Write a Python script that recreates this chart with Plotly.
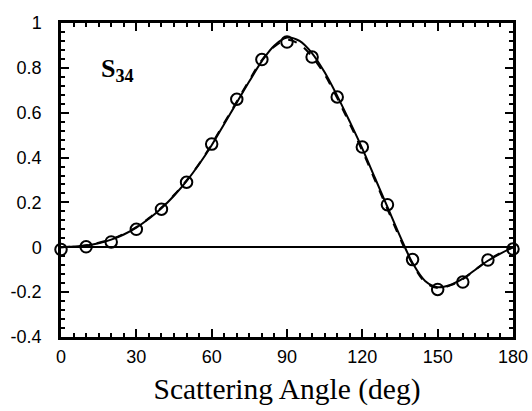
import plotly.graph_objects as go

# Measured data points (circles)
angles_pts = [0, 10, 20, 30, 40, 50, 60, 70, 80, 90, 100, 110, 120, 130, 140, 150, 160, 170, 180]
s34_pts = [-0.01, 0.002, 0.024, 0.08, 0.17, 0.29, 0.46, 0.66, 0.837, 0.915, 0.848, 0.67, 0.447, 0.19, -0.055, -0.188, -0.155, -0.057, -0.008]

# Model curves
angles_curve = [0, 5, 10, 15, 20, 25, 30, 35, 40, 45, 50, 55, 60, 65, 70, 75, 80, 85, 90,
                95, 100, 105, 110, 115, 120, 125, 130, 135, 140, 145, 150, 155, 160, 165, 170, 175, 180]
s34_solid = [0.0, 0.003, 0.008, 0.018, 0.034, 0.057, 0.088, 0.127, 0.174, 0.23, 0.295, 0.37, 0.455,
             0.55, 0.645, 0.74, 0.83, 0.9, 0.935, 0.92, 0.865, 0.78, 0.675, 0.56, 0.44, 0.31, 0.18,
             0.05, -0.07, -0.15, -0.178, -0.168, -0.14, -0.1, -0.06, -0.028, 0.0]
s34_dashed = [0.0, 0.003, 0.009, 0.02, 0.036, 0.06, 0.09, 0.13, 0.177, 0.233, 0.298, 0.372, 0.46,
              0.555, 0.65, 0.745, 0.835, 0.895, 0.925, 0.905, 0.85, 0.77, 0.665, 0.55, 0.43, 0.3, 0.17,
              0.04, -0.075, -0.155, -0.182, -0.17, -0.142, -0.1, -0.058, -0.025, 0.0]

x_ticks = [0, 30, 60, 90, 120, 150, 180]
y_ticks = [-0.4, -0.2, 0, 0.2, 0.4, 0.6, 0.8, 1]
y_tick_labels = ["-0.4", "-0.2", "0", "0.2", "0.4", "0.6", "0.8", "1"]

fig = go.Figure()
fig.add_trace(go.Scatter(x=angles_curve, y=s34_dashed, mode="lines",
                         line=dict(color="black", width=2, dash="dash", shape="spline"),
                         showlegend=False, hoverinfo="skip"))
fig.add_trace(go.Scatter(x=angles_curve, y=s34_solid, mode="lines",
                         line=dict(color="black", width=2, shape="spline"),
                         showlegend=False))
fig.add_trace(go.Scatter(x=angles_pts, y=s34_pts, mode="markers",
                         marker=dict(symbol="circle-open", size=11.5, color="black",
                                     line=dict(width=2, color="black")),
                         showlegend=False, cliponaxis=False))

axis_common = dict(
    showline=True, linecolor="black", linewidth=2.5, mirror="ticks",
    ticks="inside", ticklen=8, tickwidth=2, tickcolor="black",
    showgrid=False, automargin=False,
    tickfont=dict(family="Liberation Sans, Arial", size=18, color="black"),
)

fig.update_xaxes(range=[0, 180], tickvals=x_ticks, zeroline=False,
                 minor=dict(dtick=5, ticks="inside", ticklen=4, tickwidth=2, tickcolor="black", showgrid=False),
                 title=dict(text="Scattering Angle (deg)",
                            font=dict(family="Liberation Serif, Times New Roman", size=29.5, color="black"),
                            standoff=13),
                 ticklabelstandoff=2,
                 **axis_common)
fig.update_yaxes(range=[-0.4, 1], tickvals=y_ticks, ticktext=y_tick_labels,
                 zeroline=True, zerolinecolor="black", zerolinewidth=1.5,
                 minor=dict(dtick=0.04, tick0=0, ticks="inside", ticklen=4, tickwidth=2, tickcolor="black", showgrid=False),
                 ticklabelstandoff=13,
                 **axis_common)

fig.add_annotation(x=22.5, y=0.79, xref="x", yref="y",
                   text="<b>S<sub>34</sub></b>", showarrow=False,
                   font=dict(family="Liberation Serif, Times New Roman", size=26, color="black"))

fig.update_layout(width=532, height=411,
                  margin=dict(l=61, r=19, t=23, b=74),
                  plot_bgcolor="white", paper_bgcolor="white")

fig.write_html("out.html", config={"displayModeBar": False},
               post_script="document.body.style.margin='0';document.body.style.overflow='hidden';")
